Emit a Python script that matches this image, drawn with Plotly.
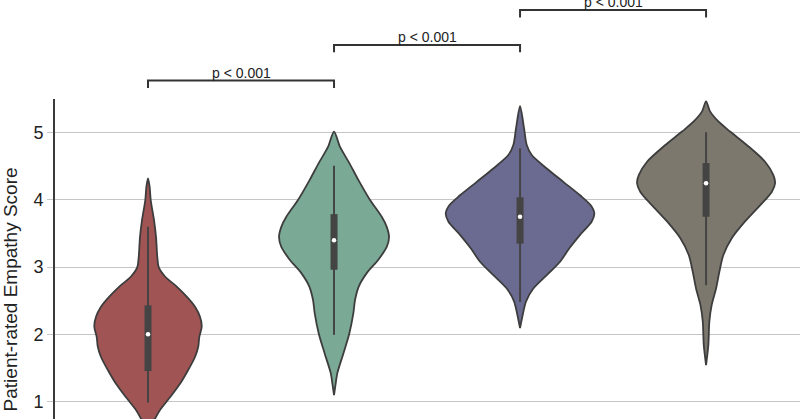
import plotly.graph_objects as go

# ---------------- data ----------------
groups = ["Group 1", "Group 2", "Group 3", "Group 4"]
colors = ["#a15454", "#7aa996", "#6b6b92", "#7c786d"]

# violin outlines: score levels and relative density (half-width) at each level
red_levels = [4.32, 4.20, 4.00, 3.70, 3.45, 3.15, 3.00, 2.86, 2.71, 2.56, 2.41, 2.26, 2.11,
              1.96, 1.82, 1.66, 1.47, 1.26, 1.06, 0.87, 0.74, 0.62, 0.50]
red_density = [0, 1.6, 2.7, 6, 8, 9.3, 10.7, 17, 28.7, 38.7, 47, 52, 53.7,
               51.3, 50.3, 47, 40.3, 32, 22, 12, 7, 3, 0]

green_levels = [5.02, 4.79, 4.55, 4.30, 4.00, 3.75, 3.60, 3.45, 3.30, 3.11, 2.91, 2.71,
                2.51, 2.31, 2.01, 1.71, 1.42, 1.25, 1.09]
green_density = [0, 6, 15.3, 24.3, 36, 47.7, 52.7, 55, 52.7, 44.3, 32.7, 24.7,
                 21, 19.3, 15.3, 9.3, 3.3, 1.5, 0]

purple_levels = [5.40, 5.07, 4.82, 4.67, 4.47, 4.27, 4.07, 3.92, 3.80, 3.68, 3.48, 3.28,
                 3.08, 2.88, 2.68, 2.49, 2.29, 2.09]
purple_density = [0, 4, 6.7, 11.7, 26.7, 43.3, 60, 70.7, 74.3, 71.7, 60, 49.3,
                  40, 26.7, 13.3, 6, 2.7, 0]

grey_levels = [5.47, 5.32, 5.17, 5.02, 4.82, 4.57, 4.37, 4.25, 4.12, 3.92, 3.68, 3.43,
               3.18, 2.93, 2.68, 2.44, 2.19, 1.84, 1.54]
grey_density = [0, 4, 12.3, 24, 40.7, 59, 67.3, 69, 65.7, 54, 39, 25.7,
                17.3, 13.3, 10, 5.7, 3.3, 2.3, 0]

# inner box statistics
q1 = [1.45, 2.96, 3.35, 3.75]
median = [2.00, 3.40, 3.75, 4.25]
q3 = [2.43, 3.79, 4.04, 4.55]
whisker_low = [0.98, 1.99, 2.48, 2.73]
whisker_high = [3.60, 4.51, 4.77, 5.01]

# significance brackets
bracket_pairs = [(0, 1), (1, 2), (2, 3)]
bracket_levels = [5.78, 6.31, 6.83]
bracket_labels = ["p < 0.001", "p < 0.001", "p < 0.001"]

y_ticks = [1, 2, 3, 4, 5]

# ---------------- figure ----------------
levels_all = [red_levels, green_levels, purple_levels, grey_levels]
density_all = [red_density, green_density, purple_density, grey_density]

X_RANGE = [-0.5, 3.505]
Y_RANGE = [0.736, 5.505]
WIDTH_SCALE = 1 / 186.0

fig = go.Figure()

for i, (lv, dn) in enumerate(zip(levels_all, density_all)):
    xs = [i + d * WIDTH_SCALE for d in dn] + [i - d * WIDTH_SCALE for d in reversed(dn)]
    ys = list(lv) + list(reversed(lv))
    fig.add_trace(go.Scatter(
        x=xs, y=ys, mode="lines", fill="toself", fillcolor=colors[i],
        line=dict(color="#3d3d3d", width=1.8, shape="spline", smoothing=0.8),
        hoverinfo="skip", showlegend=False))

for i in range(len(groups)):
    fig.add_trace(go.Scatter(
        x=[i, i], y=[whisker_low[i], whisker_high[i]], mode="lines",
        line=dict(color="#444444", width=2), showlegend=False, hoverinfo="skip"))
    fig.add_trace(go.Scatter(
        x=[i, i], y=[q1[i], q3[i]], mode="lines",
        line=dict(color="#444444", width=7), showlegend=False, hoverinfo="skip"))
    fig.add_trace(go.Scatter(
        x=[i], y=[median[i]], mode="markers",
        marker=dict(color="white", size=4.5, line=dict(width=0)),
        showlegend=False, hoverinfo="skip"))


def px_x(v):
    return (v - X_RANGE[0]) / (X_RANGE[1] - X_RANGE[0])


def px_y(v):
    return (v - Y_RANGE[0]) / (Y_RANGE[1] - Y_RANGE[0])


TICK = 0.11
for (a, b), lvl, lab in zip(bracket_pairs, bracket_levels, bracket_labels):
    fig.add_shape(type="path", xref="paper", yref="paper",
                  path=f"M {px_x(a)} {px_y(lvl - TICK)} L {px_x(a)} {px_y(lvl)} "
                       f"L {px_x(b)} {px_y(lvl)} L {px_x(b)} {px_y(lvl - TICK)}",
                  line=dict(color="#333333", width=2))
    fig.add_annotation(x=px_x((a + b) / 2), y=px_y(lvl), xref="paper", yref="paper",
                       text=lab, showarrow=False, xanchor="center", yanchor="bottom",
                       font=dict(size=14, color="#222222"), borderpad=0, yshift=-1)

fig.add_annotation(x=-57 / 745, y=px_y(2.66), xref="paper", yref="paper",
                   text="Patient-rated Empathy Score", textangle=-90, showarrow=False,
                   xanchor="left", yanchor="middle",
                   font=dict(size=19, color="#222222"))

fig.update_layout(
    width=800, height=419,
    margin=dict(l=55, r=0, t=99, b=0),
    paper_bgcolor="white", plot_bgcolor="white",
    font=dict(family="Liberation Sans, Arial, sans-serif", color="#222222"),
    xaxis=dict(range=X_RANGE, showgrid=False, zeroline=False, showticklabels=False,
               showline=False, ticks=""),
    yaxis=dict(range=Y_RANGE, tickvals=y_ticks, showgrid=True, gridcolor="#c6c6c6",
               gridwidth=1.2, zeroline=False, showline=True, linecolor="#3a3a3a",
               linewidth=1.6, ticks="outside", ticklen=6, tickcolor="#c6c6c6",
               tickwidth=1.2, tickfont=dict(size=18, color="#222222"),
               ticklabelstandoff=0, automargin=False),
)

fig.write_html("out.html", config={"displayModeBar": False},
               post_script="document.body.style.margin='0';document.body.style.overflow='hidden';")
